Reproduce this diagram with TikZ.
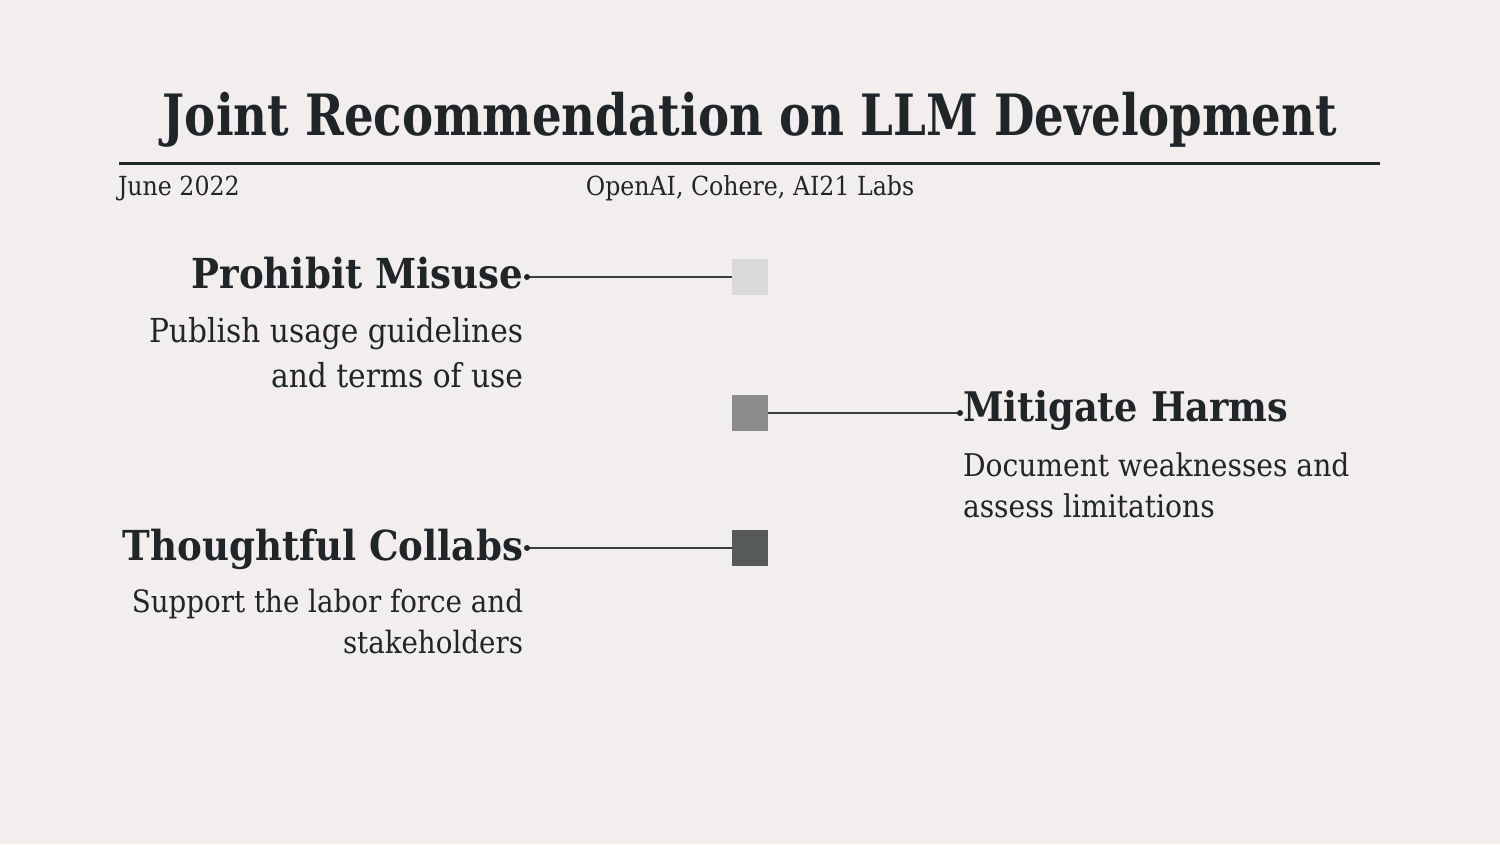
\documentclass[tikz,border=0pt]{standalone}
\usepackage{fontspec}
\setmainfont{DejaVu Serif Condensed}
\begin{document}
\begin{tikzpicture}[x=1pt,y=-1pt,
  txt/.style={text=ink, inner sep=0pt, outer sep=0pt},
  head/.style={txt, font=\bfseries\fontsize{41.3}{50}\selectfont},
  body/.style={txt, font=\fontsize{31.3}{40}\selectfont},
  sub/.style={txt, font=\fontsize{26.3}{30}\selectfont},
  sq/.style={minimum size=36pt, inner sep=0pt, outer sep=0pt, draw=none},
  conn/.style={draw=linec, line width=1.5pt},
  dot/.style={fill=ink, circle, inner sep=0pt, minimum size=6pt}]
\definecolor{bg}{HTML}{F1EEED}
\definecolor{ink}{HTML}{1F2528}
\definecolor{linec}{HTML}{3A3D3F}
\definecolor{sqa}{HTML}{D9D9D9}
\definecolor{sqb}{HTML}{8A8C8D}
\definecolor{sqc}{HTML}{575A5B}
\fill[bg] (0,0) rectangle (1500,844);
\useasboundingbox (0,0) rectangle (1500,844);
% title
\node[txt, anchor=base, font=\bfseries\fontsize{57}{64}\selectfont] (title) at (750,135) {\scalebox{0.91}[1]{Joint Recommendation on LLM Development}};
\draw[ink, line width=3pt] (119,163) -- (1380,163);
\node[sub, anchor=base west] (date) at (118,195) {June 2022};
\node[sub, anchor=base] (orgs) at (750,195) {OpenAI, Cohere, AI21 Labs};
% squares
\node[sq, fill=sqa] (s1) at (750,277) {};
\node[sq, fill=sqb] (s2) at (750,413) {};
\node[sq, fill=sqc] (s3) at (750,548) {};
% left item 1
\node[head, anchor=base east] (h1) at (523,288) {Prohibit Misuse};
\node[body, anchor=base east, font=\fontsize{33}{40}\selectfont] (b1a) at (523,342) {Publish usage guidelines};
\node[body, anchor=base east, font=\fontsize{33}{40}\selectfont] (b1b) at (523,387) {and terms of use};
\coordinate (d1) at (527,277);
\draw[conn] (d1) -- (s1.west);
\node[dot] (p1) at (d1) {};
% left item 3
\node[head, anchor=base east] (h3) at (523,560) {Thoughtful Collabs};
\node[body, anchor=base east, font=\fontsize{30.8}{40}\selectfont] (b3a) at (523,612) {Support the labor force and};
\node[body, anchor=base east, font=\fontsize{30.8}{40}\selectfont] (b3b) at (523,653) {stakeholders};
\coordinate (d3) at (527,548);
\draw[conn] (d3) -- (s3.west);
\node[dot] (p3) at (d3) {};
% right item 2
\node[head, anchor=base west, font=\bfseries\fontsize{40.8}{50}\selectfont] (h2) at (963,421) {Mitigate Harms};
\node[body, anchor=base west] (b2a) at (963,476) {Document weaknesses and};
\node[body, anchor=base west] (b2b) at (963,517) {assess limitations};
\coordinate (d2) at (960,413);
\draw[conn] (s2.east) -- (d2);
\node[dot] (p2) at (d2) {};
\end{tikzpicture}
\end{document}
